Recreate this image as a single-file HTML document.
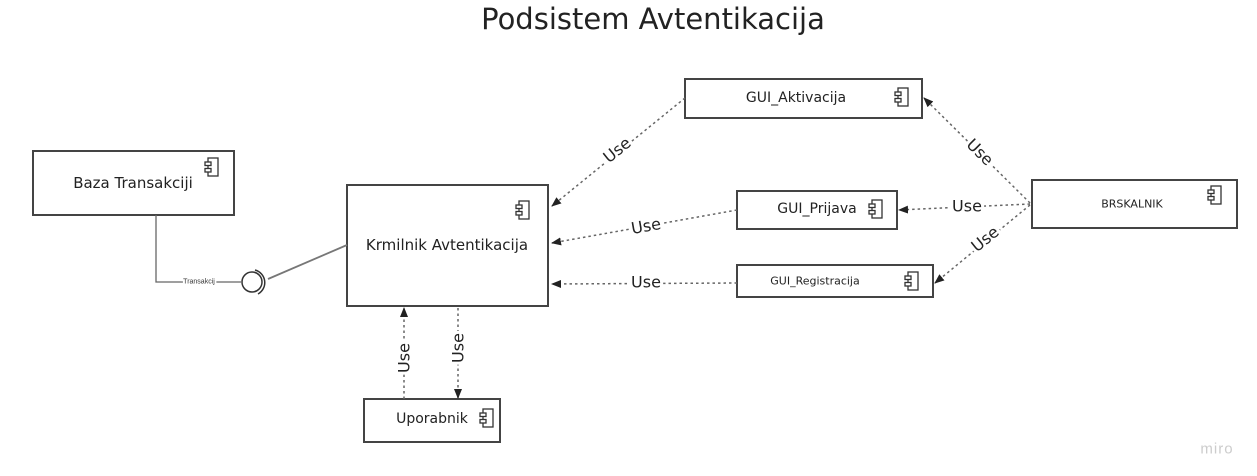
<!DOCTYPE html>
<html><head><meta charset="utf-8"><style>
html,body{margin:0;padding:0;background:#fff;}
svg{display:block;font-family:"Liberation Sans","DejaVu Sans",sans-serif;}
.box{fill:#fff;stroke:#444;stroke-width:2;}
.d{stroke:#666;stroke-width:1.5;stroke-dasharray:2.5 3;fill:none;}
.lbl{font-family:"DejaVu Sans",sans-serif;font-size:16px;fill:#222;paint-order:stroke;stroke:#fff;stroke-width:6px;text-anchor:middle;dominant-baseline:central;}
.t{font-family:"DejaVu Sans",sans-serif;fill:#222;text-anchor:middle;dominant-baseline:central;}
</style></head><body>
<svg width="1257" height="476" viewBox="0 0 1257 476" xmlns="http://www.w3.org/2000/svg">
<defs>
<g id="ic" fill="#fff" stroke="#333" stroke-width="1.3">
<rect x="3" y="0" width="10" height="18"/>
<rect x="0" y="4" width="6" height="3.5"/>
<rect x="0" y="10.5" width="6" height="3.5"/>
</g>
<marker id="ar" markerWidth="10" markerHeight="8" refX="9" refY="4" orient="auto" markerUnits="userSpaceOnUse">
<path d="M0,0 L10,4 L0,8 z" fill="#222"/></marker>
</defs>
<text x="653" y="19" class="t" font-size="29">Podsistem Avtentikacija</text>

<rect class="box" x="33" y="151" width="201" height="64"/>
<text x="133" y="183" class="t" font-size="15">Baza Transakciji</text>
<use href="#ic" x="205" y="158"/>

<rect class="box" x="347" y="185" width="201" height="121"/>
<text x="447" y="245" class="t" font-size="15">Krmilnik Avtentikacija</text>
<use href="#ic" x="516" y="201"/>

<rect class="box" x="685" y="79" width="237" height="39"/>
<text x="796" y="98" class="t" font-size="14">GUI_Aktivacija</text>
<use href="#ic" x="895" y="88"/>

<rect class="box" x="737" y="191" width="160" height="38"/>
<text x="817" y="209" class="t" font-size="14">GUI_Prijava</text>
<use href="#ic" x="869" y="200"/>

<rect class="box" x="737" y="265" width="196" height="32"/>
<text x="815" y="281" class="t" font-size="11">GUI_Registracija</text>
<use href="#ic" x="905" y="272"/>

<rect class="box" x="1032" y="180" width="205" height="48"/>
<text x="1132" y="204" class="t" font-size="11">BRSKALNIK</text>
<use href="#ic" x="1208" y="186"/>

<rect class="box" x="364" y="399" width="136" height="43"/>
<text x="432" y="419" class="t" font-size="14">Uporabnik</text>
<use href="#ic" x="480" y="409"/>

<polyline points="156,215 156,282 241,282" fill="none" stroke="#666" stroke-width="1.3"/>
<text x="199" y="282" font-size="7" fill="#333" text-anchor="middle" dominant-baseline="central" style="paint-order:stroke;stroke:#fff;stroke-width:4px">Transakcij</text>
<circle cx="252" cy="282" r="10" fill="#fff" stroke="#333" stroke-width="1.5"/>
<path d="M255,270 A13,13 0 0 1 258,294" fill="none" stroke="#333" stroke-width="1.5"/>
<line x1="268" y1="279" x2="347" y2="245" stroke="#777" stroke-width="1.8"/>

<line class="d" x1="685" y1="98" x2="552" y2="206" marker-end="url(#ar)"/>
<text class="lbl" transform="translate(617,150) rotate(-39)">Use</text>
<line class="d" x1="737" y1="210" x2="552" y2="243" marker-end="url(#ar)"/>
<text class="lbl" transform="translate(646,226) rotate(-10)">Use</text>
<line class="d" x1="737" y1="283" x2="552" y2="284" marker-end="url(#ar)"/>
<text class="lbl" x="646" y="282">Use</text>

<line class="d" x1="1030" y1="203" x2="924" y2="98" marker-end="url(#ar)"/>
<text class="lbl" transform="translate(980,152) rotate(45)">Use</text>
<line class="d" x1="1030" y1="204" x2="899" y2="210" marker-end="url(#ar)"/>
<text class="lbl" x="967" y="206">Use</text>
<line class="d" x1="1030" y1="205" x2="935" y2="283" marker-end="url(#ar)"/>
<text class="lbl" transform="translate(985,239) rotate(-39)">Use</text>

<line class="d" x1="404" y1="399" x2="404" y2="308" marker-end="url(#ar)"/>
<text class="lbl" transform="translate(404,358) rotate(-90)">Use</text>
<line class="d" x1="458" y1="308" x2="458" y2="398" marker-end="url(#ar)"/>
<text class="lbl" transform="translate(458,348) rotate(-90)">Use</text>

<text x="1217" y="449" font-size="15" fill="#ccc" text-anchor="middle" dominant-baseline="central" style="letter-spacing:1px">miro</text>
</svg>
</body></html>
